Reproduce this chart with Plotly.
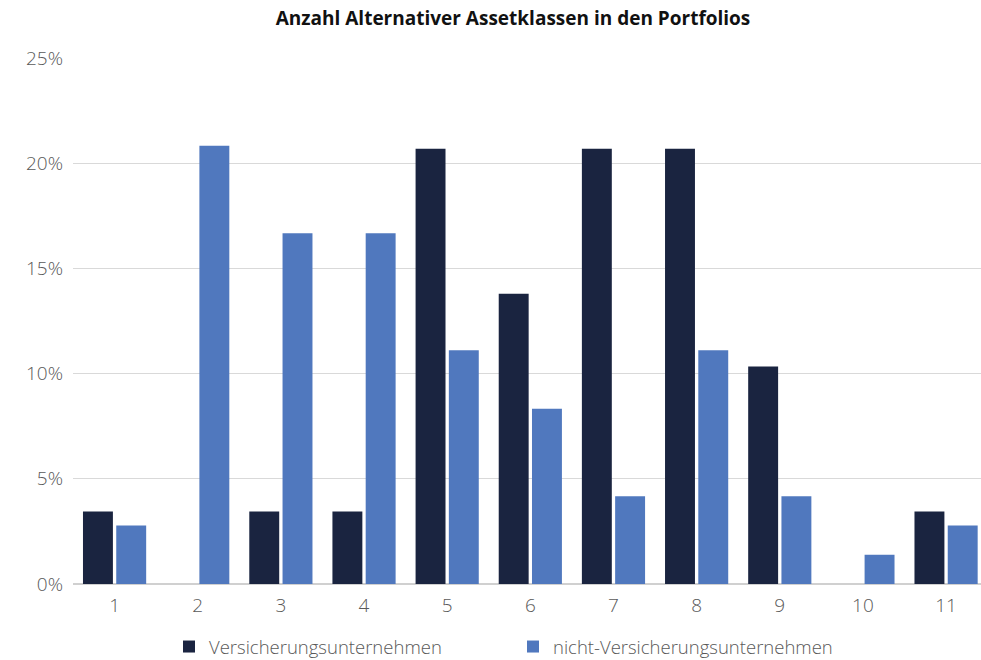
import plotly.graph_objects as go

# Anzahl alternativer Assetklassen (1..11)
categories = [1, 2, 3, 4, 5, 6, 7, 8, 9, 10, 11]
versicherer = [3.45, 0, 3.45, 3.45, 20.69, 13.79, 20.69, 20.69, 10.34, 0, 3.45]
nicht_versicherer = [2.78, 20.83, 16.67, 16.67, 11.11, 8.33, 4.17, 11.11, 4.17, 1.39, 2.78]
y_ticks = [0, 5, 10, 15, 20, 25]
y_labels = ["0%", "5%", "10%", "15%", "20%", "25%"]

W, H = 981, 660
FONT = "Open Sans"
GREY = "#595959"

fig = go.Figure()
fig.add_trace(go.Bar(
    x=categories, y=versicherer, name="Versicherungsunternehmen",
    marker=dict(color="#1a2440", line=dict(width=0)),
))
fig.add_trace(go.Bar(
    x=categories, y=nicht_versicherer, name="nicht-Versicherungsunternehmen",
    marker=dict(color="#5078be", line=dict(width=0)),
))

fig.update_layout(
    width=W, height=H,
    paper_bgcolor="white", plot_bgcolor="white",
    barmode="group", bargap=0.2, bargroupgap=0.1,
    font=dict(family=FONT, color=GREY, size=18, weight=300),
    margin=dict(l=73, r=0, t=58, b=76, autoexpand=False),
    title=dict(
        text="<b>Anzahl Alternativer Assetklassen in den Portfolios</b>",
        x=513 / W, xanchor="center", xref="container",
        y=1 - 18 / H, yanchor="middle", yref="container",
        font=dict(family=FONT, size=19, color="#111111", weight=700),
    ),
    legend=dict(
        orientation="h", x=(183 - 73 - 14) / 908, xanchor="left",
        y=1 - 647 / H, yanchor="middle", yref="container",
        font=dict(family=FONT, size=18.5, color=GREY, weight=300),
        itemwidth=30, entrywidth=299,
    ),
)
fig.update_xaxes(
    range=[0.5, 11.42], tickvals=categories, ticktext=[str(c) for c in categories],
    showgrid=False, zeroline=False, showline=False, ticks="",
    ticklabelstandoff=8,
    tickfont=dict(size=19, color=GREY, weight=300), fixedrange=True,
)
fig.update_yaxes(
    range=[0, 25], tickvals=y_ticks, ticktext=y_labels,
    showgrid=True, gridcolor="#d9d9d9", gridwidth=1,
    zeroline=True, zerolinecolor="#d0d0d0", zerolinewidth=2,
    showline=False, ticks="", ticklabelstandoff=9,
    tickfont=dict(size=19, color=GREY, weight=300), fixedrange=True,
)

fig.write_html(
    "out.html",
    config={"displayModeBar": False},
    post_script="document.body.style.margin='0';",
)
